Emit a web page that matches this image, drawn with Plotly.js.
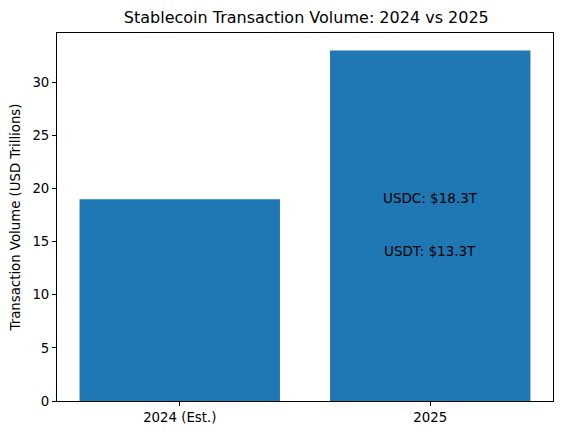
<!DOCTYPE html>
<html>
<head>
<meta charset="utf-8">
<script src="https://cdn.plot.ly/plotly-3.0.1.min.js"></script>
<style>
  html, body { margin: 0; padding: 0; background: #fff; }
  #chart { width: 562px; height: 435px; }
</style>
</head>
<body>
<div id="chart"></div>
<script>
// chart data
const years = ['2024 (Est.)', '2025']
const volumes = [19, 33]
const noteLabels = ['USDC: $18.3T', 'USDT: $13.3T']
const noteValues = [18.3, 13.3]

const font = 'DejaVu Sans, sans-serif'

let trace = {
  type: 'bar',
  x: [0, 1],
  y: volumes,
  width: 0.8,
  marker: { color: '#1f77b4' },
  hoverinfo: 'skip'
}

// text notes sit on the 2025 bar, bottom-anchored at their value
let notes = noteLabels.map((t, i) => ({
  x: 1, y: noteValues[i], xref: 'x', yref: 'y',
  text: t, showarrow: false,
  xanchor: 'center', yanchor: 'bottom',
  borderpad: 0,
  font: { family: font, size: 13.5, color: '#000' }
}))

let layout = {
  width: 562, height: 435,
  margin: { l: 57, r: 9, t: 33, b: 34 },
  paper_bgcolor: '#fff', plot_bgcolor: '#fff',
  font: { family: font, size: 13.3, color: '#000' },
  showlegend: false,
  title: {
    text: 'Stablecoin Transaction Volume: 2024 vs 2025',
    x: 0.545, xanchor: 'center', y: 0.96, yanchor: 'middle',
    font: { family: font, size: 16, color: '#000' }
  },
  xaxis: {
    range: [-0.49, 1.49],
    tickvals: [0, 1], ticktext: years,
    ticks: 'outside', ticklen: 4, tickcolor: '#000',
    showline: true, linecolor: '#000', linewidth: 1, mirror: true,
    showgrid: false, zeroline: false,
    fixedrange: true
  },
  yaxis: {
    range: [0, 34.65],
    tickvals: [0, 5, 10, 15, 20, 25, 30],
    ticks: 'outside', ticklen: 4, tickcolor: '#000',
    showline: true, linecolor: '#000', linewidth: 1, mirror: true,
    showgrid: false, zeroline: false,
    title: { text: 'Transaction Volume (USD Trillions)', standoff: 8, font: { family: font, size: 13.3 } },
    fixedrange: true
  },
  annotations: notes
}

Plotly.newPlot('chart', [trace], layout, { displayModeBar: false, staticPlot: true })
</script>
</body>
</html>
